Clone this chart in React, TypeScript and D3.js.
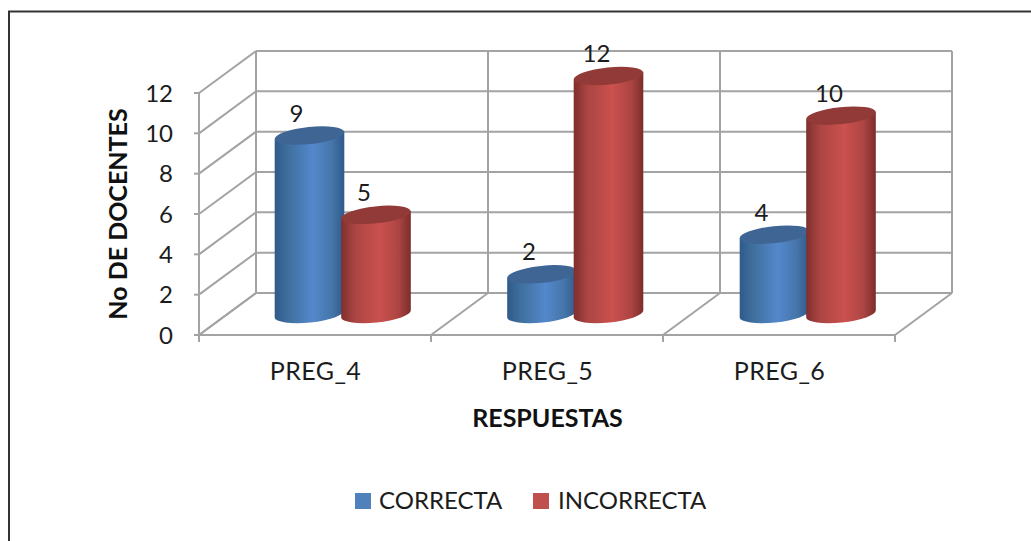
import React from "react";
import * as d3 from "d3";

const categories = ["PREG_4", "PREG_5", "PREG_6"];
const correcta = [9, 2, 4];
const incorrecta = [5, 12, 10];
const yTicks = [0, 2, 4, 6, 8, 10, 12];
const seriesNames = ["CORRECTA", "INCORRECTA"];

const W = 1031, H = 541;
const FONT = "Lato, 'Open Sans', sans-serif";
const GRID = "#a3a3a3";
const TEXT = "#1c1c1c";
const DX = 57, DY = -42;

const xFront = d3.scaleBand<string>().domain(categories).range([199, 895]);
const xBar = d3.scaleBand<string>().domain(categories).range([199, 896.5]);
const yFront = d3.scaleLinear().domain([0, 12]).range([335, 93]);
const yBar = d3.scaleLinear().domain([0, 12]).range([314, 76]);

const RX = 35, RY = 8.5, TILT = -6;
const rad = (TILT * Math.PI) / 180;

function Cylinder({ cx, value, fill, cap }: { cx: number; value: number; fill: string; cap: string }) {
  const top = yBar(value), bot = yBar(0);
  const ax = RX * Math.cos(rad), ay = RX * Math.sin(rad);
  const d = `M${cx - ax},${top - ay} L${cx - ax},${bot - ay} A${RX},${RY} ${TILT} 0 0 ${cx + ax},${bot + ay} L${cx + ax},${top + ay} Z`;
  return (
    <g>
      <path d={d} fill={fill} />
      <ellipse cx={0} cy={0} rx={RX} ry={RY} fill={cap} transform={`translate(${cx},${top}) rotate(${TILT})`} />
    </g>
  );
}

export default function App() {
  const band = xFront.bandwidth();
  const [x0, x1] = xFront.range();
  const seriesOffset = [110.5, 177];
  const seriesData = [correcta, incorrecta];
  const fills = ["url(#gBlue)", "url(#gRed)"];
  const caps = ["#3e6594", "#913a38"];
  const labelDx = [-13, -12];
  const boundaries = [...categories.map((c) => xFront(c) as number), x1];
  return (
    <svg width={W} height={H} style={{ position: "absolute", left: 0, top: 0, background: "#fff" }}>
      <defs>
        <linearGradient id="gBlue" x1="0" x2="1" y1="0" y2="0">
          <stop offset="0" stopColor="#2f5a8a" />
          <stop offset="0.2" stopColor="#40709f" />
          <stop offset="0.55" stopColor="#5388cb" />
          <stop offset="0.82" stopColor="#4675aa" />
          <stop offset="1" stopColor="#2f5a8a" />
        </linearGradient>
        <linearGradient id="gRed" x1="0" x2="1" y1="0" y2="0">
          <stop offset="0" stopColor="#7f2f2d" />
          <stop offset="0.2" stopColor="#ab4543" />
          <stop offset="0.55" stopColor="#ca514e" />
          <stop offset="0.82" stopColor="#ad4543" />
          <stop offset="1" stopColor="#7b2d2b" />
        </linearGradient>
      </defs>

      <path d={`M9,541 V11.5 H${W}`} fill="none" stroke="#333" strokeWidth={2} />

      <g fill="none" stroke={GRID} strokeWidth={2}>
        {yTicks.map((t) => (
          <g key={t}>
            <line x1={x0 + DX} x2={x1 + DX} y1={yFront(t) + DY} y2={yFront(t) + DY} />
            <line x1={x0} x2={x0 + DX} y1={yFront(t)} y2={yFront(t) + DY} />
            <line x1={x0 - 5} x2={x0} y1={yFront(t)} y2={yFront(t)} />
          </g>
        ))}
        <line x1={x0} x2={x0} y1={yFront(12)} y2={yFront(0)} />
        <line x1={x0} x2={x1} y1={yFront(0)} y2={yFront(0)} />
        {boundaries.map((b, i) => (
          <g key={i}>
            <line x1={b + DX} x2={b + DX} y1={yFront(12) + DY} y2={yFront(0) + DY} />
            <line x1={b} x2={b + DX} y1={yFront(0)} y2={yFront(0) + DY} />
            <line x1={b} x2={b} y1={yFront(0)} y2={yFront(0) + 7} />
          </g>
        ))}
      </g>

      {categories.map((c, i) =>
        seriesData.map((vals, s) => (
          <Cylinder key={c + s} cx={(xBar(c) as number) + seriesOffset[s]} value={vals[i]} fill={fills[s]} cap={caps[s]} />
        ))
      )}

      <g fontFamily={FONT} fontSize={24} fill={TEXT}>
        {yTicks.map((t) => (
          <text key={t} x={173} y={yFront(t)} dy="0.36em" textAnchor="end">{t}</text>
        ))}
        {categories.map((c) => (
          <text key={c} x={(xFront(c) as number) + band / 2 + 0.5} y={380} textAnchor="middle" fontSize={25} letterSpacing={0.4}>{c}</text>
        ))}
        {categories.map((c, i) =>
          seriesData.map((vals, s) => (
            <text key={c + s} x={(xBar(c) as number) + seriesOffset[s] + labelDx[s]} y={yBar(vals[i]) - 14} textAnchor="middle">{vals[i]}</text>
          ))
        )}
        <text x={379} y={509}>{seriesNames[0]}</text>
        <text x={558} y={509}>{seriesNames[1]}</text>
      </g>

      <rect x={355} y={493} width={16} height={16} fill="#4f81bd" />
      <rect x={533} y={493} width={16} height={16} fill="#c0504d" />

      <g fontFamily={FONT} fontSize={25} fontWeight={700} fill="#111">
        <text x={547.5} y={427} textAnchor="middle">RESPUESTAS</text>
        <text transform="translate(127,214) rotate(-90)" textAnchor="middle">No DE DOCENTES</text>
      </g>
    </svg>
  );
}
